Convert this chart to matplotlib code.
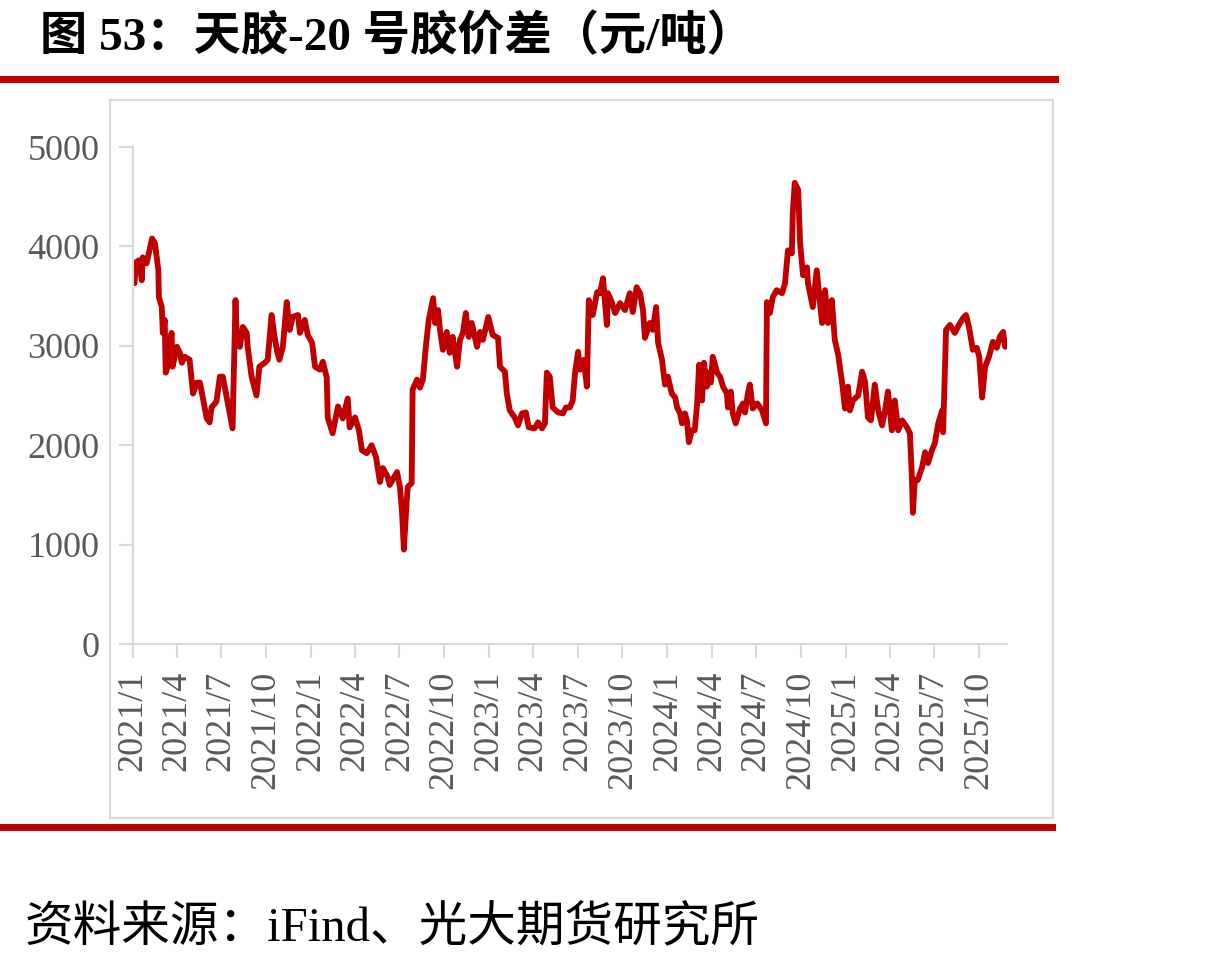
import matplotlib.pyplot as plt
import pandas as pd
from matplotlib.lines import Line2D
from matplotlib.patches import Rectangle

# 天胶-20号胶价差 (元/吨)
dates_2021 = ["2021-01-04", "2021-01-07", "2021-01-13", "2021-01-19", "2021-01-21", "2021-01-29",
              "2021-02-09", "2021-02-15", "2021-02-22", "2021-02-23",
              "2021-03-01", "2021-03-03", "2021-03-07", "2021-03-09", "2021-03-13", "2021-03-21", "2021-03-23",
              "2021-04-01", "2021-04-07", "2021-04-11", "2021-04-17", "2021-04-27",
              "2021-05-04", "2021-05-12", "2021-05-18", "2021-05-24",
              "2021-06-01", "2021-06-07", "2021-06-11", "2021-06-21", "2021-06-28",
              "2021-07-04", "2021-07-12", "2021-07-18", "2021-07-24", "2021-07-30",
              "2021-08-02", "2021-08-08", "2021-08-14", "2021-08-22", "2021-08-24",
              "2021-09-01", "2021-09-11", "2021-09-17", "2021-09-28",
              "2021-10-04", "2021-10-12", "2021-10-18", "2021-10-24", "2021-10-28",
              "2021-11-04", "2021-11-12", "2021-11-18", "2021-11-24",
              "2021-12-05", "2021-12-09", "2021-12-19", "2021-12-25"]
spread_2021 = [3630, 3840, 3860, 3660, 3890, 3830,
               4080, 4030, 3760, 3490,
               3390, 3130, 3260, 2730, 2790, 3130, 2790,
               2990, 2930, 2830, 2890, 2860,
               2520, 2630, 2630, 2480,
               2270, 2230, 2380, 2440, 2690,
               2690, 2480, 2320, 2170, 3460,
               3030, 2990, 3190, 3130, 2990,
               2690, 2500, 2790, 2830,
               2860, 3310, 3090, 2930, 2860,
               2990, 3440, 3160, 3290,
               3310, 3130, 3260, 3110]

dates_2022 = ["2022-01-03", "2022-01-09", "2022-01-19", "2022-01-25",
              "2022-02-02", "2022-02-04", "2022-02-14", "2022-02-25",
              "2022-03-07", "2022-03-17", "2022-03-21",
              "2022-04-01", "2022-04-09", "2022-04-15", "2022-04-25",
              "2022-05-05", "2022-05-14", "2022-05-22", "2022-05-28",
              "2022-06-07", "2022-06-11", "2022-06-26",
              "2022-07-02", "2022-07-06", "2022-07-10", "2022-07-16", "2022-07-18", "2022-07-26", "2022-07-28",
              "2022-08-06", "2022-08-12", "2022-08-18", "2022-08-24", "2022-08-30",
              "2022-09-08", "2022-09-12", "2022-09-18", "2022-09-22", "2022-09-28",
              "2022-10-06", "2022-10-12", "2022-10-18", "2022-10-27",
              "2022-11-02", "2022-11-08", "2022-11-14", "2022-11-20", "2022-11-26",
              "2022-12-07", "2022-12-13", "2022-12-19", "2022-12-30"]
spread_2022 = [3030, 2790, 2760, 2840,
               2680, 2280, 2120, 2390,
               2270, 2470, 2180,
               2280, 2150, 1950, 1920,
               2000, 1880, 1630, 1770,
               1680, 1600, 1730,
               1580, 1350, 950, 1450, 1580, 1620, 2560,
               2660, 2580, 2660, 2990, 3260,
               3480, 3230, 3360, 3160, 2960,
               3140, 2930, 3090, 2790,
               3060, 3130, 3330, 3090, 3230,
               2990, 3140, 3060, 3290]

dates_2023 = ["2023-01-08", "2023-01-19", "2023-01-23",
              "2023-02-02", "2023-02-06", "2023-02-12", "2023-02-22",
              "2023-03-01", "2023-03-09", "2023-03-17", "2023-03-23",
              "2023-04-04", "2023-04-11", "2023-04-19", "2023-04-25", "2023-04-29",
              "2023-05-05", "2023-05-11", "2023-05-22",
              "2023-06-01", "2023-06-07", "2023-06-15", "2023-06-21", "2023-06-26",
              "2023-07-02", "2023-07-06", "2023-07-14", "2023-07-20", "2023-07-24",
              "2023-08-01", "2023-08-10", "2023-08-16", "2023-08-22", "2023-08-30",
              "2023-09-01", "2023-09-09", "2023-09-16", "2023-09-26",
              "2023-10-06", "2023-10-16", "2023-10-22", "2023-10-30",
              "2023-11-06", "2023-11-12", "2023-11-16", "2023-11-26",
              "2023-12-02", "2023-12-09", "2023-12-13", "2023-12-21", "2023-12-27"]
spread_2023 = [3110, 3080, 2790,
               2740, 2520, 2350, 2280,
               2200, 2320, 2330, 2180,
               2170, 2230, 2170, 2220, 2730,
               2690, 2380, 2330,
               2320, 2380, 2380, 2450, 2740,
               2940, 2760, 2860, 2590, 3460,
               3310, 3540, 3530, 3680, 3210,
               3530, 3440, 3330, 3430,
               3360, 3530, 3340, 3590,
               3530, 3360, 3080, 3230,
               3160, 3390, 3030, 2860, 2610]

dates_2024 = ["2024-01-02", "2024-01-10", "2024-01-17", "2024-01-21", "2024-01-27", "2024-01-31",
              "2024-02-06", "2024-02-10", "2024-02-14", "2024-02-20", "2024-02-26",
              "2024-03-02", "2024-03-06", "2024-03-12", "2024-03-16", "2024-03-22", "2024-03-24", "2024-03-30",
              "2024-04-03", "2024-04-12", "2024-04-18", "2024-04-24",
              "2024-05-02", "2024-05-04", "2024-05-10", "2024-05-14", "2024-05-20", "2024-05-29",
              "2024-06-04", "2024-06-08", "2024-06-14", "2024-06-18", "2024-06-24",
              "2024-07-03", "2024-07-09", "2024-07-13", "2024-07-21", "2024-07-23", "2024-07-29",
              "2024-08-04", "2024-08-12", "2024-08-23", "2024-08-29",
              "2024-09-04", "2024-09-12", "2024-09-14", "2024-09-18", "2024-09-25", "2024-09-29",
              "2024-10-05", "2024-10-13", "2024-10-15", "2024-10-25",
              "2024-11-02", "2024-11-13", "2024-11-19", "2024-11-25",
              "2024-12-03", "2024-12-09", "2024-12-16", "2024-12-24", "2024-12-30"]
spread_2024 = [2690, 2520, 2480, 2380, 2320, 2220,
               2320, 2250, 2030, 2150, 2150,
               2420, 2810, 2450, 2830, 2590, 2730, 2630,
               2890, 2730, 2690, 2590,
               2520, 2380, 2540, 2320, 2220, 2370,
               2420, 2330, 2520, 2610, 2370,
               2420, 2380, 2350, 2220, 3440, 3330,
               3490, 3560, 3530, 3630,
               3960, 3930, 4340, 4640, 4570, 4030,
               3710, 3790, 3630, 3390,
               3760, 3230, 3560, 3230,
               3460, 3060, 2910, 2630, 2370]

dates_2025 = ["2025-01-05", "2025-01-09", "2025-01-15", "2025-01-26",
              "2025-02-03", "2025-02-09", "2025-02-15", "2025-02-21",
              "2025-03-01", "2025-03-08", "2025-03-16", "2025-03-22", "2025-03-28",
              "2025-04-05", "2025-04-11", "2025-04-18", "2025-04-26",
              "2025-05-06", "2025-05-12", "2025-05-16", "2025-05-18", "2025-05-22", "2025-05-28",
              "2025-06-06", "2025-06-12", "2025-06-18", "2025-06-26",
              "2025-07-02", "2025-07-09", "2025-07-17", "2025-07-19", "2025-07-25",
              "2025-08-02", "2025-08-12", "2025-08-18", "2025-08-29",
              "2025-09-04", "2025-09-10", "2025-09-18", "2025-09-26",
              "2025-10-01", "2025-10-07", "2025-10-13", "2025-10-21", "2025-10-29",
              "2025-11-06", "2025-11-12", "2025-11-19", "2025-11-23"]
spread_2025 = [2590, 2350, 2450, 2500,
               2740, 2640, 2280, 2250,
               2610, 2350, 2200, 2350, 2540,
               2150, 2450, 2150, 2250,
               2180, 2120, 1680, 1320, 1650, 1650,
               1780, 1930, 1820, 1950,
               2020, 2220, 2350, 2130, 3160,
               3210, 3130, 3190, 3280,
               3310, 3190, 2960, 2980,
               2890, 2480, 2790, 2890, 3040,
               2980, 3090, 3140, 2990]

dates = pd.to_datetime(dates_2021 + dates_2022 + dates_2023 + dates_2024 + dates_2025)
spread = spread_2021 + spread_2022 + spread_2023 + spread_2024 + spread_2025

title = "图 53：天胶-20 号胶价差（元/吨）"
source = "资料来源：iFind、光大期货研究所"
fonts = ["Liberation Serif", "Noto Sans CJK SC"]
red = "#C00000"
grey = "#D9D9D9"

fig = plt.figure(figsize=(12.18, 9.66), dpi=100)
ax = fig.add_axes([0.1092, 0.3333, 0.7176, 0.5145])

ax.plot(dates, spread, color=red, lw=4.2, solid_joinstyle="round", solid_capstyle="round")

ax.set_ylim(0, 5000)
ax.set_yticks(range(0, 5001, 1000))
ax.set_xlim(pd.Timestamp("2021-01-01"), pd.Timestamp("2025-11-27"))
ticks = pd.date_range("2021-01-01", "2025-10-01", freq="3MS")
ax.set_xticks(ticks)
ax.set_xticklabels([f"{d.year}/{d.month}" for d in ticks], rotation=90)

for s in ["top", "right"]:
    ax.spines[s].set_visible(False)
for s in ["left", "bottom"]:
    ax.spines[s].set_color(grey)
    ax.spines[s].set_linewidth(1.5)

ax.tick_params(axis="both", colors=grey, labelcolor="#595959", length=10, width=1.5, labelsize=26)
ax.tick_params(axis="y", pad=14)
ax.tick_params(axis="x", pad=9)
for lab in ax.get_xticklabels() + ax.get_yticklabels():
    lab.set_fontfamily("Liberation Serif")

# chart frame and red rules
fig.patches.append(Rectangle((0.0903, 0.1532), 0.7742, 0.7433, transform=fig.transFigure,
                             fill=False, edgecolor=grey, lw=1.5))
fig.lines.append(Line2D([0, 0.866], [0.9187, 0.9187], transform=fig.transFigure, color=red, lw=5))
fig.lines.append(Line2D([0, 0.8637], [0.1444, 0.1444], transform=fig.transFigure, color=red, lw=5))

fig.text(0.033, 0.961, title, fontsize=34, fontweight="bold", family=fonts, va="center")
fig.text(0.02, 0.039, source, fontsize=35, family=fonts, va="center")

fig.savefig("out.png", dpi=100)
